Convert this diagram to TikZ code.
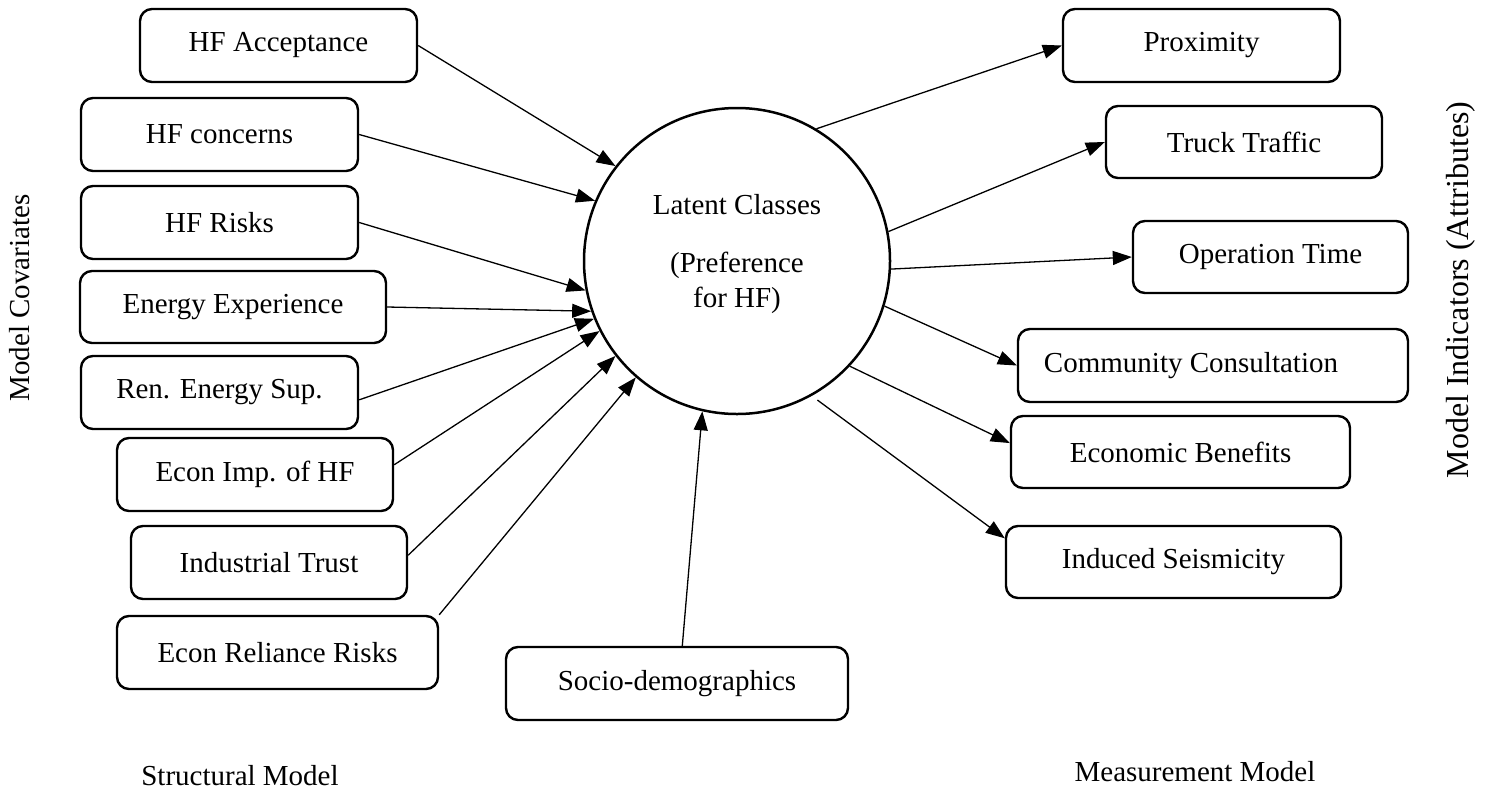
\documentclass[tikz,border=0pt]{standalone}
\usepackage{fontspec}
\setmainfont{Liberation Serif}
\usetikzlibrary{arrows.meta}
\begin{document}
\begin{tikzpicture}[x=1pt,y=-1pt,
  box/.style={draw, line width=2.4pt, rounded corners=12pt, minimum height=73pt,
    inner sep=0pt, align=center, font=\fontsize{29}{35}\selectfont},
  lbl/.style={inner sep=0pt, font=\fontsize{29}{35}\selectfont},
  arr/.style={line width=1.3pt, -{Triangle[length=19pt,width=14pt]}}]
\useasboundingbox (0,0) rectangle (1485,796);
% central latent node
\node[draw, circle, line width=2.5pt, minimum size=306pt, inner sep=0pt] (circ) at (737,261) {};
\node[lbl, align=center] (lctext) at (737,254) {Latent Classes\\[23pt](Preference\\for HF)};
% covariates (left)
\node[box, minimum width=277pt] (acc)   at (278.5,45.5)  {HF Acceptance};
\node[box, minimum width=277pt] (conc)  at (219.5,134.5) {HF concerns};
\node[box, minimum width=277pt] (risk)  at (219.5,222.5) {HF Risks};
\node[box, minimum width=306pt, minimum height=72pt] (enex) at (233,307) {Energy Experience};
\node[box, minimum width=277pt] (ren)   at (219.5,392.5) {Ren. Energy Sup.};
\node[box, minimum width=276pt] (imp)   at (255,474.5)   {Econ Imp. of HF};
\node[box, minimum width=276pt] (trust) at (269,562.5)   {Industrial Trust};
\node[box, minimum width=321pt] (rel)   at (277.5,652.5) {Econ Reliance Risks};
\node[box, minimum width=342pt] (socio) at (677,683.5)   {Socio-demographics};
% indicators (right)
\node[box, minimum width=277pt] (prox)   at (1201.5,45.5) {Proximity};
\node[box, minimum width=276pt, minimum height=72pt] (truck)  at (1244,142)    {Truck Traffic};
\node[box, minimum width=275pt, minimum height=72pt] (optime) at (1270.5,257)  {Operation Time};
\node[box, minimum width=390pt] (comm)   at (1213,365.5)  {Community Consultation\hspace{44pt}};
\node[box, minimum width=339pt, minimum height=72pt] (ben)    at (1180.5,452)  {Economic Benefits};
\node[box, minimum width=335pt, minimum height=72pt] (seis)   at (1173.5,562)  {Induced Seismicity};
% side and bottom labels
\node[lbl, rotate=90] (cov) at (20,298) {Model Covariates};
\node[lbl, rotate=90, font=\fontsize{32}{38}\selectfont] (ind) at (1461,290) {Model Indicators (Attributes)};
\node[lbl] (struct) at (240,776) {Structural Model};
\node[lbl] (meas) at (1195,772) {Measurement Model};
% connectors into the latent node
\draw[arr] (acc.east) -- (circ.142);
\draw[arr] (conc.east) -- (circ.157);
\draw[arr] (risk.east) -- (circ.191.5);
\draw[arr] (enex.east) -- (circ.199);
\draw[arr] (ren.-3) -- (circ.202);
\draw[arr] (imp.4.8) -- (circ.207.5);
\draw[arr] (trust.3) -- (circ.218);
\draw[arr] (rel.north east) -- (circ.229);
\draw[arr] (socio.82) -- (circ.257);
% connectors out of the latent node
\draw[arr] (circ.59) -- (prox.west);
\draw[arr] (circ.11.7) -- (truck.west);
\draw[arr] (circ.-3.4) -- (optime.west);
\draw[arr] (circ.-17.5) -- (comm.west);
\draw[arr] (circ.-43.7) -- (ben.177.6);
\draw[arr, shorten <=7pt] (circ.-61.7) -- (seis.172);
\end{tikzpicture}
\end{document}
